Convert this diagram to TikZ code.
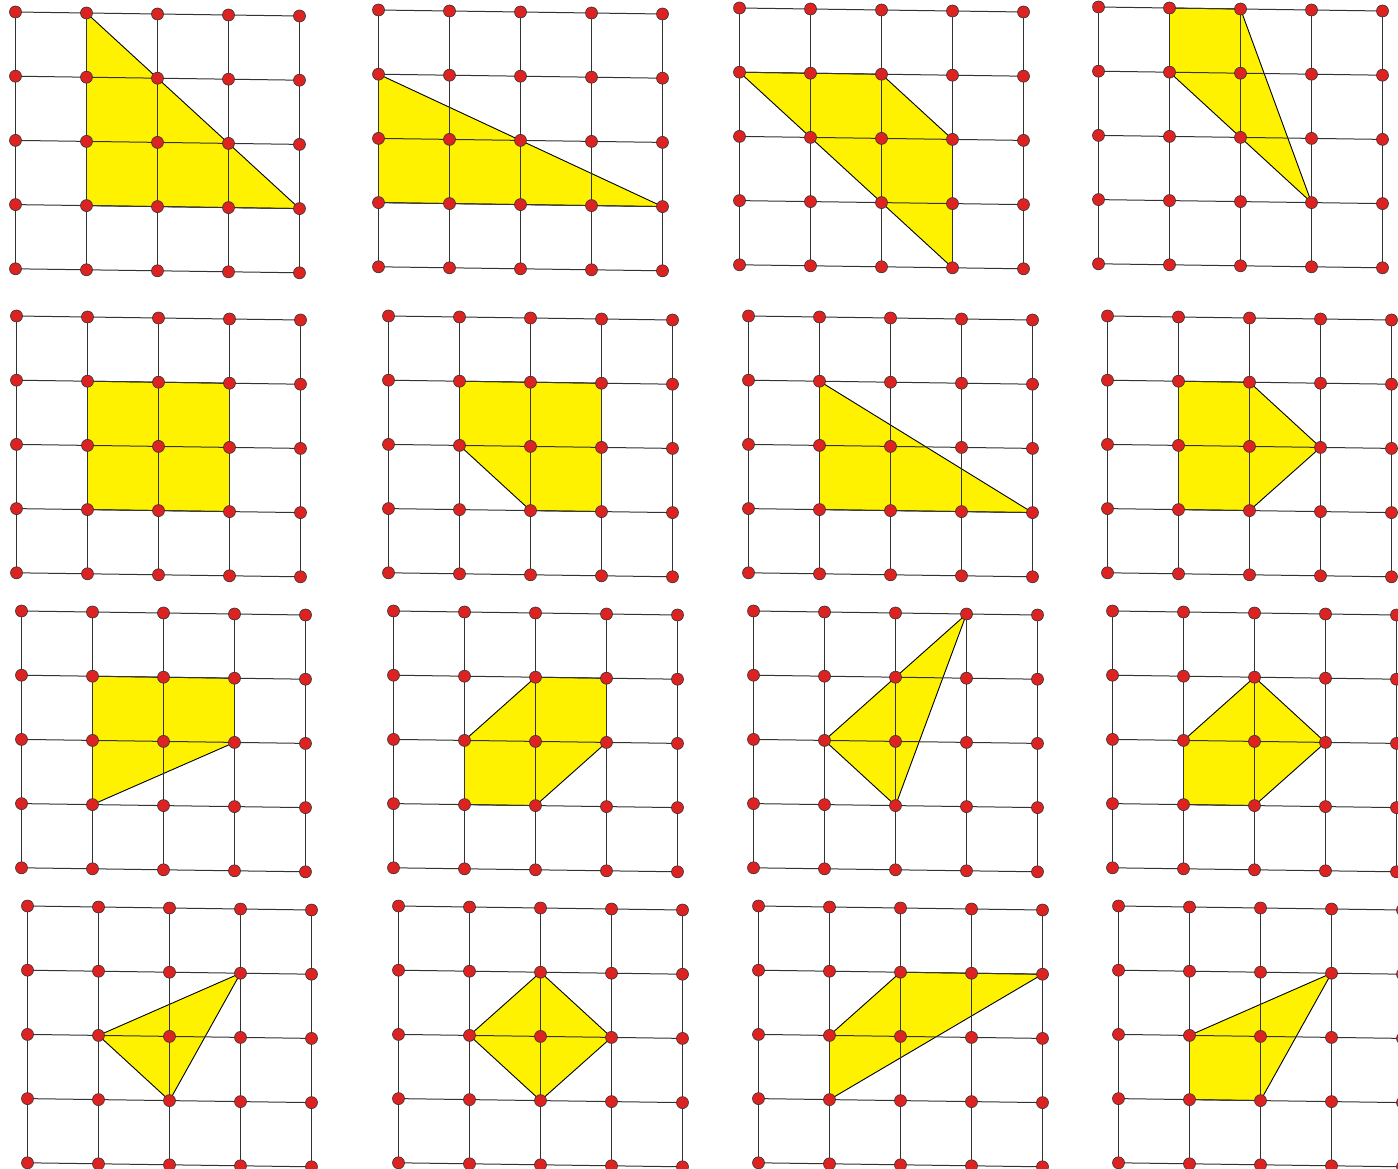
\documentclass[tikz,border=0pt]{standalone}
\definecolor{polyyellow}{HTML}{FFF200}
\definecolor{dotred}{HTML}{DD2222}
\definecolor{gridgray}{HTML}{333333}
\tikzset{
  gridline/.style={draw=gridgray,line width=1pt},
  poly/.style={fill=polyyellow,draw=black,line width=0.9pt,line join=round},
  dot/.style={circle,fill=dotred,draw=black!80,line width=0.6pt,minimum size=12pt,inner sep=0pt}
}
\newcommand\mkpanel[3]{%
  \foreach \i in {0,...,4}{\foreach \j in {0,...,4}{
    \coordinate (#1-\i-\j) at ({#2+0.5+71*\i},{#3+64.2*\j+1*\i});
  }}}
\newcommand\gridof[1]{%
  \foreach \k in {0,...,4}{
    \draw[gridline] (#1-0-\k) -- (#1-4-\k);
    \draw[gridline] (#1-\k-0) -- (#1-\k-4);
  }}
\newcommand\dotsof[1]{%
  \foreach \i in {0,...,4}{\foreach \j in {0,...,4}{
    \node[dot] (#1-\i-\j-d) at (#1-\i-\j) {};
  }}}
\begin{document}
\begin{tikzpicture}[x=1pt,y=-1pt]
\useasboundingbox (0,0) rectangle (1398,1169);
% panel coordinates
\mkpanel{a}{15}{12}
\mkpanel{b}{378}{10}
\mkpanel{c}{739}{8}
\mkpanel{d}{1098}{7}
\mkpanel{e}{16}{316}
\mkpanel{f}{388}{316}
\mkpanel{g}{748}{316}
\mkpanel{h}{1107}{316}
\mkpanel{i}{21}{611}
\mkpanel{j}{393}{611}
\mkpanel{k}{753}{611}
\mkpanel{l}{1112}{611}
\mkpanel{m}{27}{906}
\mkpanel{n}{398}{906}
\mkpanel{o}{758}{906}
\mkpanel{p}{1118}{906}
% polygons
\draw[poly] (a-1-0) -- (a-4-3) -- (a-1-3) -- cycle;
\draw[poly] (b-0-1) -- (b-4-3) -- (b-0-3) -- cycle;
\draw[poly] (c-0-1) -- (c-2-1) -- (c-3-2) -- (c-3-4) -- cycle;
\draw[poly] (d-1-0) -- (d-2-0) -- (d-3-3) -- (d-1-1) -- cycle;
\draw[poly] (e-1-1) -- (e-3-1) -- (e-3-3) -- (e-1-3) -- cycle;
\draw[poly] (f-1-1) -- (f-3-1) -- (f-3-3) -- (f-2-3) -- (f-1-2) -- cycle;
\draw[poly] (g-1-1) -- (g-4-3) -- (g-1-3) -- cycle;
\draw[poly] (h-1-1) -- (h-2-1) -- (h-3-2) -- (h-2-3) -- (h-1-3) -- cycle;
\draw[poly] (i-1-1) -- (i-3-1) -- (i-3-2) -- (i-1-3) -- cycle;
\draw[poly] (j-1-2) -- (j-2-1) -- (j-3-1) -- (j-3-2) -- (j-2-3) -- (j-1-3) -- cycle;
\draw[poly] (k-1-2) -- (k-3-0) -- (k-2-3) -- cycle;
\draw[poly] (l-1-2) -- (l-2-1) -- (l-3-2) -- (l-2-3) -- (l-1-3) -- cycle;
\draw[poly] (m-1-2) -- (m-3-1) -- (m-2-3) -- cycle;
\draw[poly] (n-1-2) -- (n-2-1) -- (n-3-2) -- (n-2-3) -- cycle;
\draw[poly] (o-1-3) -- (o-1-2) -- (o-2-1) -- (o-4-1) -- cycle;
\draw[poly] (p-1-2) -- (p-3-1) -- (p-2-3) -- (p-1-3) -- cycle;
% grids
\foreach \q in {a,b,c,d,e,f,g,h,i,j,k,l,m,n,o,p}{\gridof{\q}}
% dots
\foreach \q in {a,b,c,d,e,f,g,h,i,j,k,l,m,n,o,p}{\dotsof{\q}}
\end{tikzpicture}
\end{document}
